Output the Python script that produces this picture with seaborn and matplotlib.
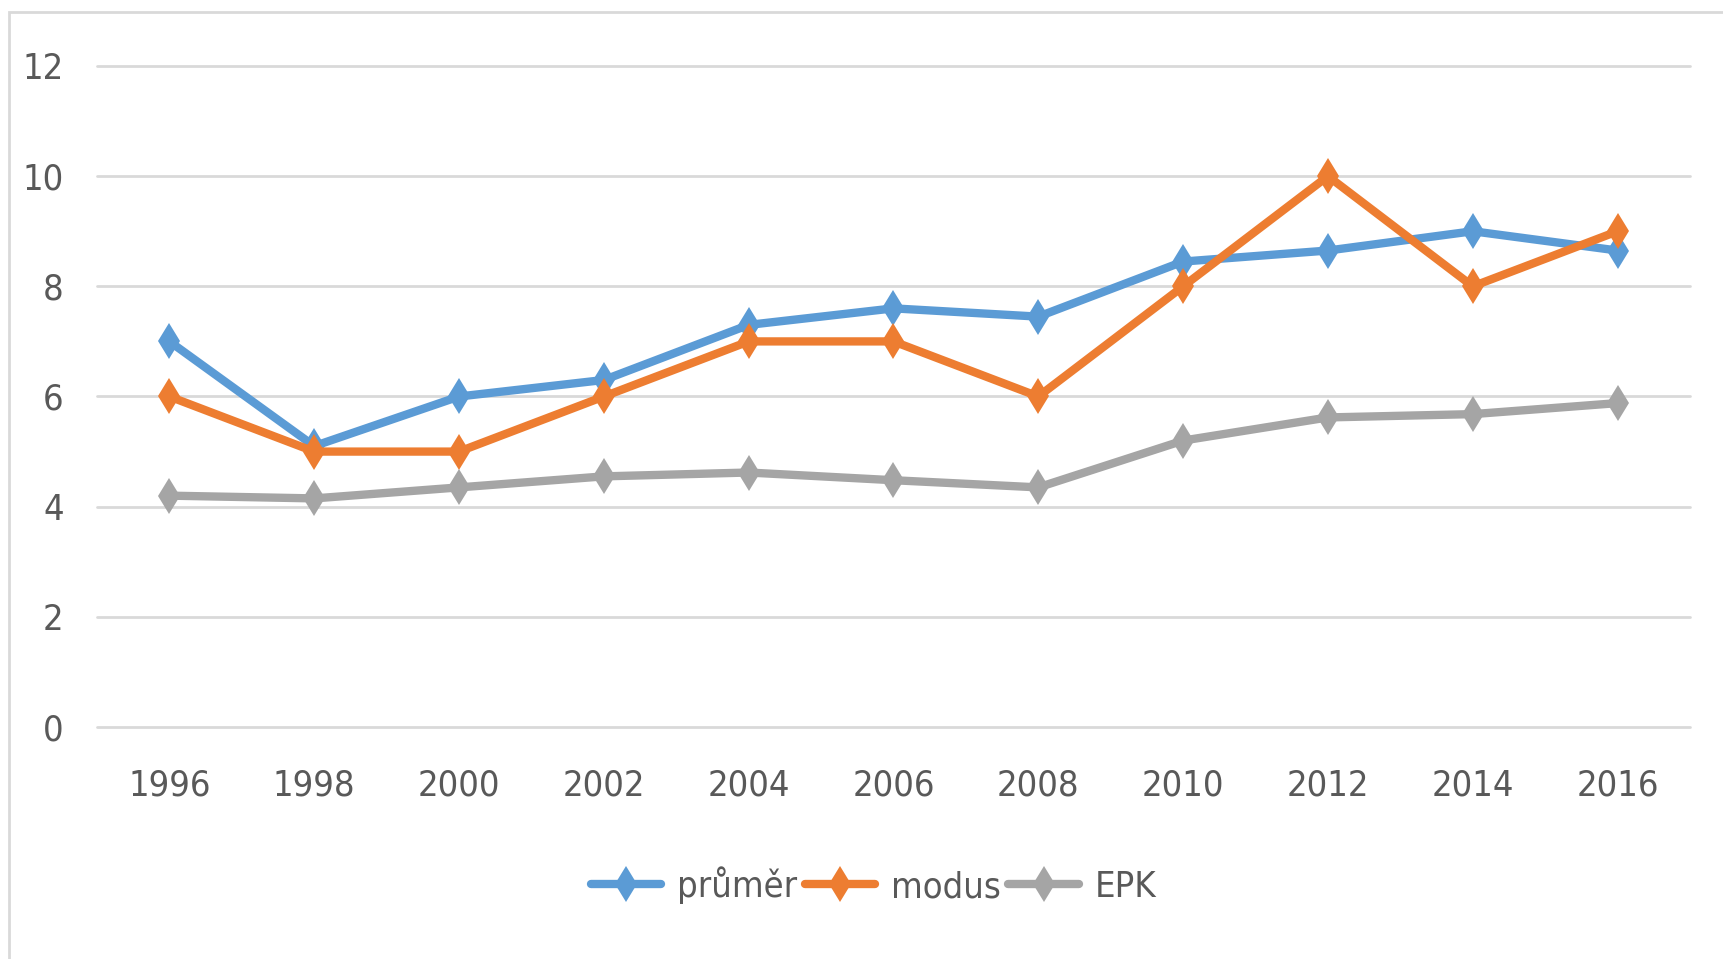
import numpy as np
import pandas as pd
import seaborn as sns
import matplotlib.pyplot as plt
from matplotlib.patches import Rectangle

years = [1996, 1998, 2000, 2002, 2004, 2006, 2008, 2010, 2012, 2014, 2016]
prumer = [7.0, 5.1, 6.0, 6.3, 7.3, 7.6, 7.45, 8.45, 8.65, 9.0, 8.65]
modus = [6, 5, 5, 6, 7, 7, 6, 8, 10, 8, 9]
epk = [4.2, 4.15, 4.35, 4.55, 4.62, 4.48, 4.35, 5.2, 5.62, 5.68, 5.88]

series = [('průměr', prumer, '#5B9BD5'),
          ('modus', modus, '#ED7D31'),
          ('EPK', epk, '#A5A5A5')]

sns.set_style("white")
plt.rcParams['font.family'] = ['DejaVu Sans']
plt.rcParams['font.stretch'] = 'condensed'

fig = plt.figure(figsize=(17.23, 9.59), dpi=100)
ax = fig.add_axes([97 / 1723, 1 - 727 / 959, (1690 - 97) / 1723, (727 - 66) / 959])

for name, vals, col in series:
    df = pd.DataFrame({'Year': years, 'Value': vals})
    sns.lineplot(data=df, x='Year', y='Value', color=col, linewidth=6,
                 marker='d', markersize=18, markeredgewidth=0,
                 label=name, ax=ax)

ax.set_xlim(1995, 2017)
ax.set_ylim(0, 12)
ax.set_xticks(years)
ax.set_xticklabels([str(y) for y in years])
ax.set_yticks(np.arange(0, 13, 2))
ax.grid(axis='y', color='#D9D9D9', linewidth=2)
ax.grid(axis='x', visible=False)
for gl in ax.get_ygridlines():
    gl.set_clip_on(False)
ax.set_axisbelow(True)
sns.despine(ax=ax, left=True, bottom=True)
ax.tick_params(axis='both', length=0, labelsize=26, colors='#595959')
ax.tick_params(axis='y', pad=24)
ax.tick_params(axis='x', pad=30)
ax.set_xlabel('')
ax.set_ylabel('')

ax.legend(loc='center', bbox_to_anchor=(0.507, 0.077), bbox_transform=fig.transFigure,
          ncol=3, frameon=False, fontsize=26, labelcolor='#595959',
          handlelength=1.95, handletextpad=0.45, columnspacing=0.2)

fig.patches.append(Rectangle((9 / 1723, -0.1), 2, 1.1 - 12 / 959,
                             transform=fig.transFigure, fill=False,
                             edgecolor='#D9D9D9', linewidth=2))

fig.savefig('out.png', dpi=100)
